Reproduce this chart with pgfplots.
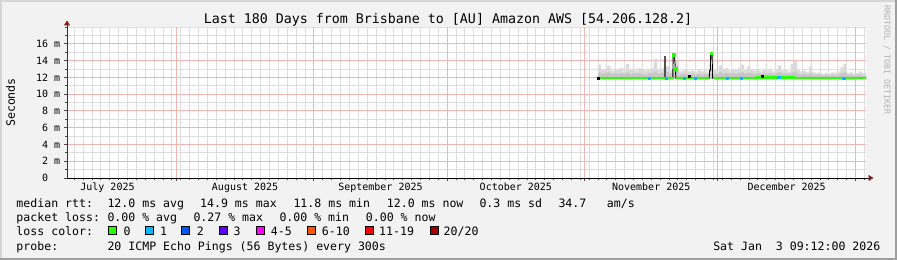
\documentclass[border=0pt]{standalone}
\usepackage{fontspec}
\setmainfont{DejaVu Sans Mono}
\usepackage{pgfplots}
\pgfplotsset{compat=1.18}
\usepackage{pgfplotstable}
\usetikzlibrary{arrows.meta}
\definecolor{bg}{HTML}{F2F2F2}
\definecolor{shadeA}{HTML}{D6D6D6}
\definecolor{shadeB}{HTML}{9E9E9E}
\definecolor{majgridcol}{HTML}{F3B4B4}
\definecolor{mingridcol}{HTML}{DEDEDE}
\definecolor{smokeA}{HTML}{DADADA}
\definecolor{smokeB}{HTML}{C6C6C6}
\definecolor{l0}{HTML}{26FF00}
\definecolor{l1}{HTML}{00B8FF}
\definecolor{l2}{HTML}{0059FF}
\definecolor{l3}{HTML}{5E00FF}
\definecolor{l4}{HTML}{FF00FF}
\definecolor{l6}{HTML}{FF5500}
\definecolor{l11}{HTML}{FF0000}
\definecolor{l20}{HTML}{A10000}
\definecolor{arrowred}{HTML}{8B1A1A}
\newcommand{\lf}{\fontsize{11.56bp}{13bp}\selectfont}
\newcommand{\tf}{\fontsize{10bp}{12bp}\selectfont}
\newcommand{\T}[3]{\node[anchor=base west,inner sep=0pt,font=\lf] at ({#1bp-67bp},{178bp-#2bp}) {#3};}
\newcommand{\B}[2]{\filldraw[fill=#2,draw=black,line width=0.8bp] ({#1bp-67bp},{178bp-234.7bp}) rectangle ++(8bp,8bp);}
\tikzset{mingl/.style={draw=mingridcol, line width=0.8bp},
         majgl/.style={draw=majgridcol, line width=0.9bp}}

% smoke envelope: x (days since 1 Jul 2025), top of smoke, top of dense smoke;
% the last two rows close the band at its lower edge (11.8 ms)
\pgfplotstableread{
x top inner
126.0 13.5 12.6
126.7 12.9 12.4
127.4 13.0 12.5
128.1 13.4 12.6
128.8 12.8 12.4
129.5 13.0 12.5
130.2 12.9 12.4
130.9 13.1 12.5
131.6 12.8 12.4
132.3 13.6 12.6
133.0 12.9 12.4
133.7 13.0 12.5
134.4 12.8 12.4
135.1 13.1 12.5
135.8 12.9 12.4
136.5 12.8 12.3
137.2 13.0 12.5
137.9 13.1 12.5
138.6 14.2 12.7
139.3 12.9 12.4
140.0 13.0 12.5
140.7 13.2 12.6
141.4 13.3 12.6
142.1 12.8 12.4
142.8 13.0 12.5
143.5 13.9 12.8
144.2 12.7 12.3
144.9 12.8 12.4
145.6 12.9 12.4
146.3 12.7 12.3
147.0 12.8 12.4
147.7 12.6 12.3
148.4 12.9 12.4
149.1 12.7 12.3
149.8 12.8 12.4
150.5 12.6 12.3
151.2 12.8 12.4
151.9 12.9 12.4
152.6 12.8 12.4
153.3 13.4 12.6
154.0 12.9 12.4
154.7 13.1 12.5
155.4 12.8 12.4
156.1 13.0 12.5
156.8 12.9 12.4
157.5 13.1 12.5
158.2 13.5 12.6
158.9 12.9 12.4
159.6 13.3 12.5
160.3 13.0 12.5
161.0 12.8 12.4
161.7 13.0 12.5
162.4 12.7 12.4
163.1 12.9 12.5
163.8 12.8 12.4
164.5 13.0 12.5
165.2 12.7 12.4
165.9 12.9 12.5
166.6 13.4 12.6
167.3 12.8 12.4
168.0 12.9 12.5
168.7 12.7 12.4
169.4 13.6 12.6
170.1 14.0 12.7
170.8 12.9 12.4
171.5 12.7 12.3
172.2 12.8 12.4
172.9 12.6 12.3
173.6 13.3 12.5
174.3 12.6 12.3
175.0 12.5 12.3
175.7 12.6 12.3
176.4 12.4 12.2
177.1 12.5 12.3
177.8 12.4 12.2
178.5 12.6 12.3
179.2 12.5 12.2
179.9 12.7 12.3
180.6 13.2 12.5
181.3 13.6 12.6
182.0 12.5 12.3
182.7 12.6 12.3
183.4 12.4 12.2
184.1 12.5 12.3
184.8 12.7 12.3
185.5 12.5 12.2
186.38 12.6 12.3
186.38 11.8 11.8
126.0 11.8 11.8
}\smoke

\begin{document}
\begin{tikzpicture}
\fill[bg] (-67bp,-82bp) rectangle (830bp,178bp);
\fill[shadeA] (-67bp,176bp) rectangle (830bp,178bp);
\fill[shadeA] (-67bp,-82bp) rectangle (-65bp,178bp);
\fill[shadeB] (-67bp,-82bp) rectangle (830bp,-79.5bp);
\fill[shadeB] (827.5bp,-82bp) rectangle (830bp,178bp);

\begin{axis}[
 name=ax, at={(0,0)}, anchor=south west, scale only axis,
 width=799bp, height=151bp,
 xmin=6.38, xmax=186.38, ymin=0, ymax=18,
 axis line style={draw=none},
 axis background/.style={fill=white},
 xtick={31,62,92,123,153,184},
 xticklabels={,,,,,},
 minor xtick={8,10,...,186},
 extra x ticks={15.5,46.5,77,107.5,138,168.5},
 extra x tick labels={July 2025,August 2025,September 2025,October 2025,November 2025,December 2025},
 extra x tick style={major tick length=0pt},
 ytick={0,2,...,16},
 yticklabels={0\hphantom{00},2 m,4 m,6 m,8 m,10 m,12 m,14 m,16 m},
 minor ytick={1,3,...,17,18},
 grid=none,
 tick align=outside, xtick pos=left, ytick pos=left,
 major tick length=3bp, minor tick length=1.5bp,
 tick style={black!70, line width=0.8bp},
 ticklabel style={font=\tf},
 yticklabel style={anchor=east, inner sep=0pt, xshift=-3.7bp},
 xticklabel style={anchor=base, inner sep=0pt, yshift=-12.7bp},
 /pgf/number format/assume math mode=true,
 unbounded coords=jump,
]
% grid
\pgfplotsinvokeforeach{8,10,...,186}{\draw[mingl] (axis cs:#1,0) -- (axis cs:#1,18);}
\pgfplotsinvokeforeach{1,3,...,17,18}{\draw[mingl] (axis cs:6.38,#1) -- (axis cs:186.38,#1);}
\pgfplotsinvokeforeach{31,62,92,123,153,184}{\draw[majgl] (axis cs:#1,0) -- (axis cs:#1,18);}
\pgfplotsinvokeforeach{2,4,...,16}{\draw[majgl] (axis cs:6.38,#1) -- (axis cs:186.38,#1);}
% data
\addplot[fill=smokeA, draw=none, const plot] table[x=x,y=top]{\smoke};
\addplot[fill=smokeB, draw=none, const plot] table[x=x,y=inner]{\smoke};
\addplot[black!68, line width=2bp] coordinates {(141.14,11.9) (141.14,14.6)};
\addplot[black, line width=0.9bp] coordinates {
 (126.0,11.9) (142.85,11.9) (142.95,14.7) (143.2,14.7) (143.45,13.0) (143.55,11.9)
 (151.05,11.9) (151.15,12.8) (151.3,12.8) (151.4,14.9) (151.7,14.9) (151.82,11.9)
 (161.8,11.9) (161.8,12.0) (170.0,12.0) (170.0,11.9) (186.38,11.9)};
\addplot[l0, line width=2.6bp] coordinates {
 (126.2,11.9) (142.8,11.9) (142.85,nan) (143.6,11.9) (151.0,11.9) (151.1,nan)
 (151.9,11.9) (161.8,11.9) (161.8,12.0) (170.0,12.0) (170.0,11.9) (186.38,11.9)};
\addplot[only marks, mark=square*, mark size=1.3bp, color=l0] coordinates {
 (143.1,14.7) (143.45,13.0) (151.55,14.9)};
\addplot[only marks, mark=square*, mark size=1.3bp, color=l1] coordinates {
 (137.53,11.9) (141.37,11.9) (145.43,11.9) (147.91,11.9) (155.14,11.9) (158.30,11.9) (166.65,12.0) (181.32,11.9)};
\addplot[only marks, mark=square*, mark size=1bp, color=black] coordinates {
 (126.0,11.9) (146.6,12.15) (163.1,12.1)};
\end{axis}

\draw[black!80, line width=1bp, -{Triangle[length=5bp,width=6bp,color=arrowred]}] (ax.south west) -- ([yshift=6.5bp]ax.north west);
\draw[black, line width=1bp, -{Triangle[length=5bp,width=6bp,color=arrowred]}] (ax.south west) -- ([xshift=7.5bp]ax.south east);

\node[anchor=base, inner sep=0pt, font=\fontsize{13.3bp}{15bp}\selectfont] at (381bp,154bp) {Last 180 Days from Brisbane to [AU] Amazon AWS [54.206.128.2]};
\node[rotate=90, inner sep=0pt, font=\lf] at (-56.5bp,75.5bp) {Seconds};
\node[rotate=-90, inner sep=0pt, font=\fontsize{8.3bp}{10bp}\selectfont, text=black!30] at (820bp,118bp) {RRDTOOL / TOBI OETIKER};

\T{16.3}{207.3}{median rtt:}
\T{107.3}{207.3}{12.0 ms avg}
\T{200}{207.3}{14.9 ms max}
\T{293.3}{207.3}{11.8 ms min}
\T{386.7}{207.3}{12.0 ms now}
\T{479.3}{207.3}{0.3 ms sd}
\T{558.3}{207.3}{34.7}
\T{606.7}{207.3}{am/s}

\T{16.3}{221.5}{packet loss:}
\T{107.3}{221.5}{0.00 \% avg}
\T{193.3}{221.5}{0.27 \% max}
\T{279.3}{221.5}{0.00 \% min}
\T{365.7}{221.5}{0.00 \% now}

\T{16.3}{235.7}{loss color:}
\B{108.3}{l0}\T{123.3}{235.7}{0}
\B{145}{l1}\T{160}{235.7}{1}
\B{181.7}{l2}\T{196.7}{235.7}{2}
\B{219}{l3}\T{233.3}{235.7}{3}
\B{256}{l4}\T{270.7}{235.7}{4-5}
\B{307.3}{l6}\T{321.7}{235.7}{6-10}
\B{365.7}{l11}\T{379}{235.7}{11-19}
\B{430}{l20}\T{443.5}{235.7}{20/20}

\T{16.3}{250}{probe:}
\T{107.3}{250}{20 ICMP Echo Pings (56 Bytes) every 300s}
\node[anchor=base east, inner sep=0pt, font=\lf] at (813.5bp,-72bp) {Sat Jan\ \ 3 09:12:00 2026};

\pgfresetboundingbox
\path[use as bounding box] (-67bp,-82bp) rectangle (830bp,178bp);
\end{tikzpicture}
\end{document}
